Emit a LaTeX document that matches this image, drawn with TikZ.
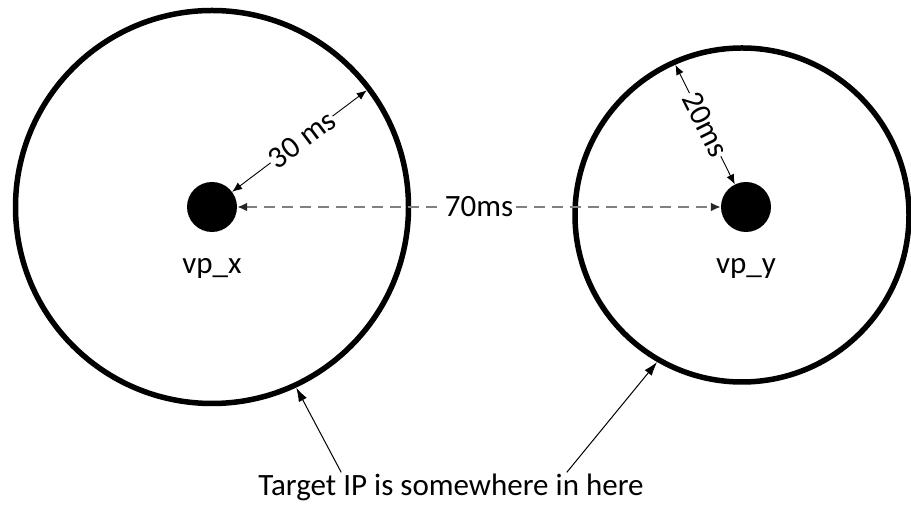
\documentclass[tikz,border=0pt]{standalone}
\usepackage{fontspec}
\setmainfont{Carlito}
\usetikzlibrary{arrows.meta,positioning}

\begin{document}
\begin{tikzpicture}[x=1pt,y=1pt,
    ring/.style={circle,draw,line width=5.5pt,inner sep=0pt},
    vp/.style={circle,fill,inner sep=0pt,minimum size=50pt},
    lbl/.style={font=\fontsize{31}{37}\selectfont,inner sep=1pt},
    tag/.style={lbl,fill=white},
    radius/.style={<->,>={Latex[length=10pt,width=8pt]},line width=0.9pt},
    gap/.style={<->,>={Latex[length=10pt,width=9pt,color=black!85]},draw=gray,line width=2.5pt,
        dash pattern=on 11pt off 7pt},
    pointer/.style={->,>={Latex[length=14pt,width=9pt]},line width=1pt}]
    \useasboundingbox (0,0) rectangle (911,510);

    % vantage points
    \node[vp] (vpx) at (212,303) {};
    \node[vp] (vpy) at (746,303) {};
    \node[lbl] (namex) at (212,242) {vp\_x};
    \node[lbl] (namey) at (746,242) {vp\_y};

    % rings
    \node[ring,minimum size=393pt] (ringx) at (212,303) {};
    \node[ring,minimum size=334pt] (ringy) at (742,295) {};

    % radii
    \draw[radius,shorten >=5.5pt] (vpx) -- (ringx.37) node[tag,sloped,pos=0.5] {30 ms};
    \draw[radius,shorten <=5.5pt] (ringy.114) -- (vpy) node[tag,sloped,pos=0.52] {20ms};

    % distance between the two
    \draw[gap] (vpx) -- (vpy) node[tag,midway] {70ms};

    % target
    \node[lbl] (target) at (451,23) {Target IP is somewhere in here};
    \draw[pointer] ([xshift=84pt]target.north west) -- (ringx.-65);
    \draw[pointer] ([xshift=-78pt]target.north east) -- (ringy.-120);
\end{tikzpicture}
\end{document}
